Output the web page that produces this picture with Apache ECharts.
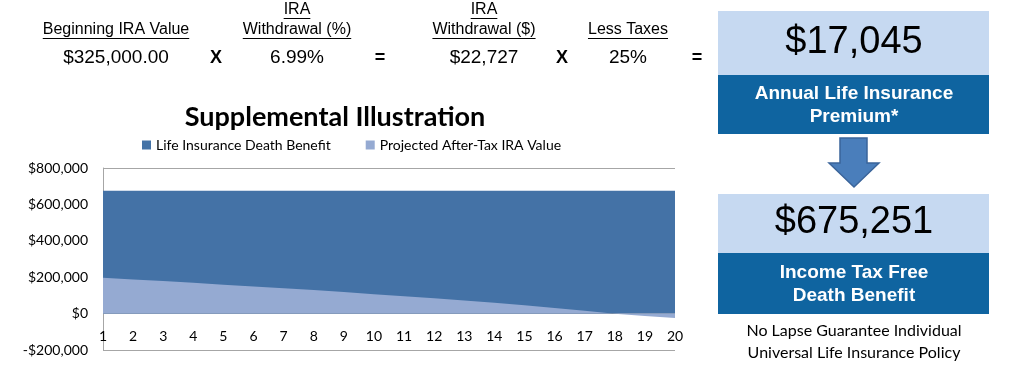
<!DOCTYPE html>
<html><head><meta charset="utf-8">
<script src="https://cdn.jsdelivr.net/npm/echarts@6/dist/echarts.min.js"></script>
<style>html,body{margin:0;padding:0;background:#fff}#c{width:1024px;height:374px}</style>
</head><body><div id="c"></div>
<script>
const years = ['1','2','3','4','5','6','7','8','9','10','11','12','13','14','15','16','17','18','19','20'];
const deathBenefit = [675251,675251,675251,675251,675251,675251,675251,675251,675251,675251,675251,675251,675251,675251,675251,675251,675251,675251,675251,675251];
const iraValue = [197000,188000,178500,169000,159000,149000,139000,129000,118000,107000,96000,84000,72000,59000,45500,31000,16000,-1500,-13000,-24000];
const seriesNames = ['Life Insurance Death Benefit','Projected After-Tax IRA Value'];
const yTicks = {min:-200000, max:800000, step:200000};
const headers = [
  {top:'', bottom:'Beginning IRA Value', value:'$325,000.00'},
  {top:'IRA', bottom:'Withdrawal (%)', value:'6.99%'},
  {top:'IRA', bottom:'Withdrawal ($)', value:'$22,727'},
  {top:'', bottom:'Less Taxes', value:'25%'}
];
const operators = ['X','=','X','='];
const premium = '$17,045';
const premiumLabel = ['Annual Life Insurance','Premium*'];
const benefit = '$675,251';
const benefitLabel = ['Income Tax Free','Death Benefit'];
const policyNote = ['No Lapse Guarantee Individual','Universal Life Insurance Policy'];

const chart = echarts.init(document.getElementById('c'), null, {renderer:'canvas'});
const cv = document.createElement('canvas').getContext('2d');
function tw(t, font){ cv.font = font; return cv.measureText(t).width; }

const g = [];
const hx = [116, 297, 484, 628];
const ox = [216, 380, 562, 697];
const hFont = '16px "Liberation Sans", Arial';
headers.forEach((h,i)=>{
  if (h.top){
    const w0 = tw(h.top,hFont);
    g.push({type:'text', left:hx[i]-w0/2, top:2, style:{text:h.top, font:hFont, fill:'#000'}});
    g.push({type:'line', shape:{x1:hx[i]-w0/2, y1:18.5, x2:hx[i]+w0/2, y2:18.5}, style:{stroke:'#000', lineWidth:1}});
  }
  const w = tw(h.bottom,hFont);
  g.push({type:'text', left:hx[i]-w/2, top:22, style:{text:h.bottom, font:hFont, fill:'#000'}});
  g.push({type:'line', shape:{x1:hx[i]-w/2, y1:38.5, x2:hx[i]+w/2, y2:38.5}, style:{stroke:'#000', lineWidth:1}});
  const vf = '19px "Liberation Sans", Arial';
  g.push({type:'text', left:hx[i]-tw(h.value,vf)/2, top:48, style:{text:h.value, font:vf, fill:'#000'}});
});
operators.forEach((o,i)=>{
  const f = 'bold 18px "Liberation Sans", Arial';
  g.push({type:'text', left:ox[i]-tw(o,f)/2, top:49, style:{text:o, font:f, fill:'#000'}});
});
// right boxes
const light = '#C6D9F1', dark = '#0F64A0';
g.push({type:'rect', shape:{x:718, y:11, width:271, height:64}, style:{fill:light}});
g.push({type:'rect', shape:{x:718, y:75, width:271, height:59}, style:{fill:dark}});
g.push({type:'rect', shape:{x:718, y:194, width:271, height:59}, style:{fill:light}});
g.push({type:'rect', shape:{x:718, y:253, width:271, height:61}, style:{fill:dark}});
const bigF = '38px "Liberation Sans", Arial';
g.push({type:'text', left:854-tw(premium,bigF)/2, top:24, style:{text:premium, font:bigF, fill:'#000'}});
g.push({type:'text', left:854-tw(benefit,bigF)/2, top:204, style:{text:benefit, font:bigF, fill:'#000'}});
const lf = 'bold 19px "Liberation Sans", Arial';
premiumLabel.forEach((t,i)=>g.push({type:'text', left:854-tw(t,lf)/2, top:84+i*23, style:{text:t, font:lf, fill:'#fff'}}));
benefitLabel.forEach((t,i)=>g.push({type:'text', left:854-tw(t,lf)/2, top:263+i*23, style:{text:t, font:lf, fill:'#fff'}}));
const nf = '16px Lato, "Open Sans", sans-serif';
policyNote.forEach((t,i)=>g.push({type:'text', left:854-tw(t,nf)/2, top:323+i*22, style:{text:t, font:nf, fill:'#000'}}));
g.push({type:'polygon', shape:{points:[[840,138],[867,138],[867,163],[879,163],[854,187],[829,163],[840,163]]}, style:{fill:'#4A7EBB', stroke:'#3A649A', lineWidth:1.5}});
// title
const tf = 'bold 27px Lato, "Open Sans", sans-serif';
const title = 'Supplemental Illustration';
g.push({type:'text', left:335-tw(title,tf)/2, top:104, style:{text:title, font:tf, fill:'#000'}});

function fmt(v){ const s = '$' + Math.abs(v).toLocaleString('en-US'); return v<0 ? '-'+s : s; }

chart.setOption({
  animation:false,
  graphic:g,
  legend:{data:seriesNames, top:133, left:137, itemWidth:9, itemHeight:9, itemGap:35, icon:'rect',
    textStyle:{fontFamily:'Lato', fontSize:14, color:'#000'}},
  grid:{left:103, right:349, top:168, bottom:24, outerBoundsMode:'none', containLabel:false},
  xAxis:{type:'category', data:years, boundaryGap:false,
    axisLine:{show:false},
    axisTick:{show:false},
    axisLabel:{interval:0, margin:-21, fontFamily:'Lato', fontSize:14, color:'#000'}},
  yAxis:{type:'value', min:yTicks.min, max:yTicks.max, interval:yTicks.step,
    axisLine:{show:true, lineStyle:{color:'#a6a6a6'}},
    axisTick:{show:false},
    axisLabel:{formatter:fmt, margin:15, fontFamily:'Lato', fontSize:14, color:'#000'},
    splitLine:{show:true, lineStyle:{color:['#a6a6a6','#a6a6a6','rgba(0,0,0,0)','rgba(0,0,0,0)','rgba(0,0,0,0)','#a6a6a6'], width:1}}},
  series:[
    {name:seriesNames[0], type:'line', data:deathBenefit, showSymbol:false, symbol:'none',
      itemStyle:{color:'#4472A6'}, lineStyle:{width:0}, areaStyle:{color:'#4472A6', opacity:1}, z:2},
    {name:seriesNames[1], type:'line', data:iraValue, showSymbol:false, symbol:'none',
      itemStyle:{color:'#95AAD2'}, lineStyle:{width:0}, areaStyle:{color:'#95AAD2', opacity:1}, z:3}
  ]
});
</script></body></html>
